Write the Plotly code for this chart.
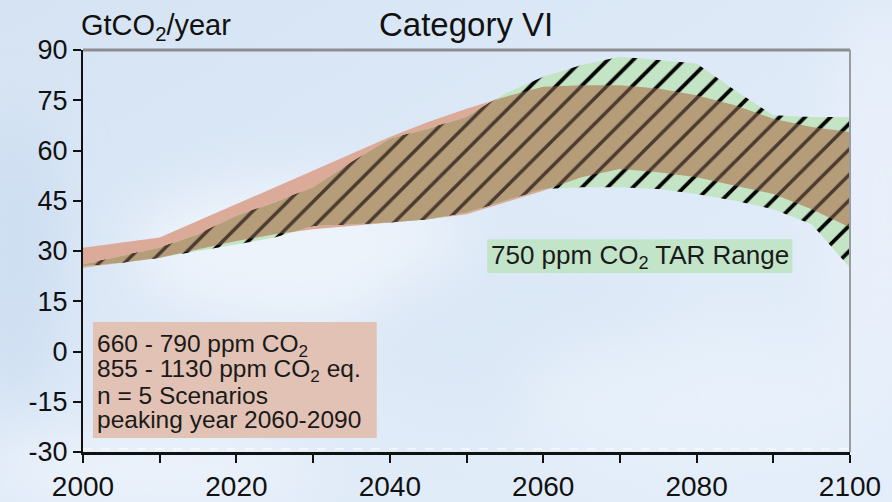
import base64
import plotly.graph_objects as go

# Emission pathways, GtCO2/year
years = [2000, 2005, 2010, 2015, 2020, 2025, 2030, 2035, 2040, 2045, 2050,
         2055, 2060, 2065, 2070, 2075, 2080, 2085, 2090, 2095, 2100]

# Category VI scenario range (660 - 790 ppm CO2)
cat6_upper = [31.0, 32.5, 34.0, 39.0, 44.0, 49.0, 54.0, 59.0, 64.0, 68.5, 72.5,
              76.0, 79.0, 79.5, 79.5, 78.5, 76.5, 73.5, 69.5, 67.0, 65.5]
cat6_lower = [25.0, 26.5, 28.0, 30.5, 33.0, 35.0, 36.5, 37.5, 38.5, 39.5, 41.0,
              44.5, 48.0, 52.0, 54.5, 53.5, 52.0, 49.5, 47.0, 42.5, 37.0]

# 750 ppm CO2 stabilisation range from the TAR
tar750_upper = [26.0, 28.5, 31.0, 35.0, 40.5, 44.5, 49.0, 56.5, 63.5, 66.5, 70.0,
                77.0, 82.0, 85.5, 88.0, 87.0, 86.0, 78.0, 70.5, 70.0, 70.0]
tar750_lower = [25.5, 26.5, 28.0, 30.0, 32.0, 34.0, 37.5, 38.0, 38.5, 39.5, 41.5,
                45.0, 48.5, 49.0, 49.0, 48.5, 47.0, 45.0, 42.5, 38.0, 25.0]

y_ticks = [-30, -15, 0, 15, 30, 45, 60, 75, 90]
y_ticktext = ["-30", "-15", "0", "15", "30", "45", "60", "75", "90"]
x_ticks = [2000, 2020, 2040, 2060, 2080, 2100]

cat6_lines = ["660 - 790 ppm CO<sub>2</sub>",
              "855 - 1130 ppm CO<sub>2</sub> eq.",
              "n = 5 Scenarios",
              "peaking year 2060-2090"]
tar_label = "750 ppm CO<sub>2</sub> TAR Range"

FONT = "Liberation Sans, Arial, Helvetica, sans-serif"
PINK = "#dbaa99"
GREEN = "#c4e5c5"
BROWN = "#b59d7a"


def envelope(x, a, b, pick):
    """Piecewise-linear min/max of two curves, with crossing points inserted."""
    xs, ys = [], []
    for i in range(len(x)):
        if i > 0:
            d0 = a[i - 1] - b[i - 1]
            d1 = a[i] - b[i]
            if d0 * d1 < 0:
                t = d0 / (d0 - d1)
                xs.append(x[i - 1] + t * (x[i] - x[i - 1]))
                ys.append(a[i - 1] + t * (a[i] - a[i - 1]))
        xs.append(x[i])
        ys.append(pick(a[i], b[i]))
    return xs, ys


def polygon(xu, yu, xl, yl):
    return list(xu) + list(xl)[::-1], list(yu) + list(yl)[::-1]


fig = go.Figure()

# Category VI band
px_, py_ = polygon(years, cat6_upper, years, cat6_lower)
fig.add_trace(go.Scatter(x=px_, y=py_, fill="toself", fillcolor=PINK,
                         line=dict(width=0), mode="lines", hoverinfo="skip",
                         showlegend=False))

# TAR 750 ppm band, hatched
gx, gy = polygon(years, tar750_upper, years, tar750_lower)
fig.add_trace(go.Scatter(x=gx, y=gy, fill="toself", fillcolor=GREEN,
                         fillpattern=dict(shape="/", size=18, solidity=0.21,
                                          fgcolor="#000000", bgcolor=GREEN,
                                          fillmode="replace"),
                         line=dict(width=0), mode="lines", hoverinfo="skip",
                         showlegend=False))

# Overlap of both ranges
ux, uy = envelope(years, cat6_upper, tar750_upper, min)
lx, ly = envelope(years, cat6_lower, tar750_lower, max)
ox, oy = polygon(ux, uy, lx, ly)
fig.add_trace(go.Scatter(x=ox, y=oy, fill="toself", fillcolor=BROWN,
                         fillpattern=dict(shape="/", size=18, solidity=0.19,
                                          fgcolor="#4a3a30", bgcolor=BROWN,
                                          fillmode="replace"),
                         line=dict(width=0), mode="lines", hoverinfo="skip",
                         showlegend=False))

# Sky backdrop
bg_svg = """<svg xmlns="http://www.w3.org/2000/svg" width="892" height="502" viewBox="0 0 892 502">
<defs>
<linearGradient id="sky" x1="0" y1="0" x2="1" y2="1">
<stop offset="0" stop-color="#d5e3f3"/>
<stop offset="0.45" stop-color="#dde9f7"/>
<stop offset="1" stop-color="#e4eefa"/>
</linearGradient>
<filter id="soft" x="-50%" y="-50%" width="200%" height="200%"><feGaussianBlur stdDeviation="28"/></filter>
</defs>
<rect width="892" height="502" fill="url(#sky)"/>
<g filter="url(#soft)">
<ellipse cx="15" cy="260" rx="45" ry="150" fill="#c9dbef" opacity="0.7"/>
<ellipse cx="300" cy="250" rx="170" ry="70" fill="#f1f6fd" opacity="0.8"/>
<ellipse cx="520" cy="330" rx="160" ry="90" fill="#d9e6f5" opacity="0.6"/>
<ellipse cx="700" cy="400" rx="180" ry="70" fill="#e8f1fb" opacity="0.8"/>
<ellipse cx="150" cy="470" rx="170" ry="35" fill="#f0f5fc" opacity="0.8"/>
<ellipse cx="880" cy="200" rx="50" ry="200" fill="#eaf1fb" opacity="0.9"/>
</g>
</svg>"""
bg_src = "data:image/svg+xml;base64," + base64.b64encode(bg_svg.encode()).decode()

L, R, T, B = 83, 42, 50, 50
W, H = 892, 502
pw, ph = W - L - R, H - T - B

shapes = [
    # frame top and right
    dict(type="line", xref="paper", yref="paper", x0=0, x1=1, y0=1, y1=1,
         line=dict(color="#8b8d91", width=3)),
    dict(type="line", xref="paper", yref="paper", x0=1, x1=1, y0=0, y1=1,
         line=dict(color="#9a9ca0", width=2)),
    # faint dashed line just above the base
    dict(type="line", xref="paper", yref="y", x0=0, x1=1, y0=-29.1, y1=-29.1,
         line=dict(color="rgba(255,255,255,0.75)", width=1.5, dash="dash")),
    # info boxes
    dict(type="rect", xref="x", yref="y", x0=2001.3, x1=2038.3, y0=-25.8, y1=8.8,
         fillcolor="#e2c2b4", line=dict(width=0), layer="above"),
    dict(type="rect", xref="x", yref="y", x0=2052.7, x1=2092.5, y0=23.4, y1=33.5,
         fillcolor="#c2e4c9", line=dict(width=0), layer="above"),
]

annotations = [
    dict(text="Category VI", xref="paper", yref="paper", x=0.499, y=1 + 5 / ph,
         xanchor="center", yanchor="bottom", showarrow=False,
         font=dict(family=FONT, size=33, color="#111111")),
    dict(text="GtCO<sub>2</sub>/year", xref="paper", yref="paper", x=-4 / pw, y=1 + 3 / ph,
         xanchor="left", yanchor="bottom", showarrow=False,
         font=dict(family=FONT, size=29, color="#111111")),
    dict(text=tar_label, xref="x", yref="y", x=2072.6, y=28.5,
         xanchor="center", yanchor="middle", showarrow=False,
         font=dict(family=FONT, size=26, color="#1a1a1a")),
]
line_px = [345, 370, 395, 419]
for txt, ypx in zip(cat6_lines, line_px):
    annotations.append(dict(text=txt, xref="x", yref="y", x=2001.5,
                            y=90 - (ypx - T) * 120 / ph,
                            xanchor="left", yanchor="middle", showarrow=False,
                            font=dict(family=FONT, size=24.5, color="#1a1a1a")))

fig.update_layout(
    width=W, height=H,
    margin=dict(l=L, r=R, t=T, b=B, pad=0),
    paper_bgcolor="#dce8f6",
    plot_bgcolor="rgba(0,0,0,0)",
    showlegend=False,
    shapes=shapes,
    annotations=annotations,
    images=[dict(source=bg_src, xref="paper", yref="paper",
                 x=-L / pw, y=1 + T / ph, sizex=W / pw, sizey=H / ph,
                 xanchor="left", yanchor="top", sizing="stretch", layer="below")],
    xaxis=dict(range=[2000, 2100], tickvals=x_ticks, ticks="outside", ticklen=8,
               tickwidth=2, tickcolor="#111111", showgrid=False, zeroline=False,
               showline=True, linecolor="#111111", linewidth=2.5, automargin=False,
               tickfont=dict(family=FONT, size=28, color="#111111"),
               minor=dict(dtick=10, tick0=2000, ticks="outside", ticklen=8,
                          tickwidth=2, tickcolor="#111111", showgrid=False)),
    yaxis=dict(range=[-30, 90], tickvals=y_ticks, ticktext=y_ticktext,
               ticks="outside", ticklen=8, automargin=False,
               tickwidth=2, tickcolor="#111111", showgrid=False, zeroline=False,
               showline=True, linecolor="#111111", linewidth=2,
               tickfont=dict(family=FONT, size=27, color="#111111")),
)

fig.write_html("out.html")
